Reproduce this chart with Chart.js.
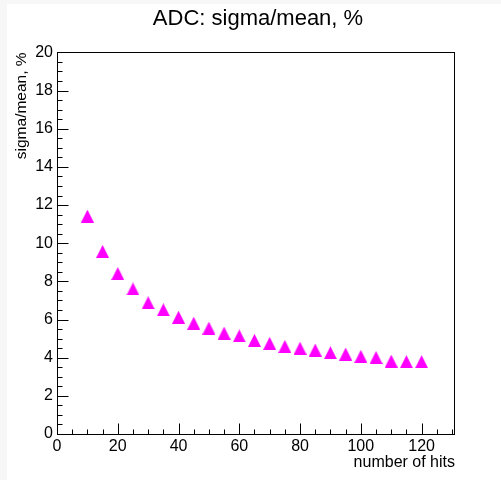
<!DOCTYPE html>
<html>
<head>
<meta charset="utf-8">
<title>ADC: sigma/mean, %</title>
<script src="https://cdn.jsdelivr.net/npm/chart.js@4.4.1/dist/chart.umd.min.js"></script>
<style>
  html, body { margin: 0; padding: 0; background: #ffffff; }
  #wrap { width: 501px; height: 480px; }
</style>
</head>
<body>
<div id="wrap"><canvas id="adcChart" width="501" height="480"></canvas></div>
<script>
// data
const hits = [10, 15, 20, 25, 30, 35, 40, 45, 50, 55, 60, 65, 70, 75, 80, 85, 90, 95, 100, 105, 110, 115, 120];
const sigmaMean = [11.42, 9.57, 8.41, 7.60, 6.88, 6.51, 6.12, 5.81, 5.55, 5.29, 5.14, 4.91, 4.75,
  4.59, 4.50, 4.40, 4.26, 4.19, 4.07, 4.01, 3.82, 3.79, 3.79];

const X_MIN = 0, X_MAX = 131, X_MAJOR = 20, X_MINOR = 5;
const Y_MIN = 0, Y_MAX = 20, Y_MAJOR = 2, Y_MINOR = 0.5;

const FONT = "'Liberation Sans', Arial, Helvetica, sans-serif";

// ROOT-like full triangle marker (box centred on the point)
function makeTriangle(size, color) {
  const c = document.createElement("canvas");
  c.width = size;
  c.height = size;
  const g = c.getContext("2d");
  g.fillStyle = color;
  g.beginPath();
  g.moveTo(0, size);
  g.lineTo(size, size);
  g.lineTo(size / 2, 0);
  g.closePath();
  g.fill();
  return c;
}

// light grey strip on top/left, like the original screenshot
const backdrop = {
  id: "backdrop",
  beforeDraw(chart) {
    const ctx = chart.ctx;
    ctx.save();
    ctx.fillStyle = "#f7f7f7";
    ctx.fillRect(0, 0, chart.width, chart.height);
    ctx.fillStyle = "#ffffff";
    ctx.fillRect(7, 4, chart.width - 7, chart.height - 4);
    ctx.restore();
  },
};

// frame with ticks drawn inside the pad
const rootFrame = {
  id: "rootFrame",
  afterDraw(chart) {
    const { ctx, chartArea: a } = chart;
    const xs = chart.scales.x, ys = chart.scales.y;
    ctx.save();
    ctx.strokeStyle = "#000";
    ctx.lineWidth = 1;
    ctx.strokeRect(Math.round(a.left) + 0.5, Math.round(a.top) + 0.5,
      Math.round(a.right - a.left) - 1, Math.round(a.bottom - a.top));

    ctx.beginPath();
    const bottom = Math.round(a.bottom) + 0.5;
    for (let v = X_MIN; v <= X_MAX + 1e-9; v += X_MINOR) {
      const px = Math.round(xs.getPixelForValue(v)) + 0.5;
      const len = Math.abs(v % X_MAJOR) < 1e-9 ? 11 : 5;
      ctx.moveTo(px, bottom);
      ctx.lineTo(px, bottom - len);
    }
    const left = Math.round(a.left) + 0.5;
    for (let v = Y_MIN; v <= Y_MAX + 1e-9; v += Y_MINOR) {
      const py = Math.round(ys.getPixelForValue(v)) + 0.5;
      const len = Math.abs(v % Y_MAJOR) < 1e-9 ? 11 : 5;
      ctx.moveTo(left, py);
      ctx.lineTo(left + len, py);
    }
    ctx.stroke();
    ctx.restore();
  },
};

const marker = makeTriangle(13, "#ff00ff");

new Chart(document.getElementById("adcChart").getContext("2d"), {
  type: "scatter",
  data: {
    datasets: [
      {
        label: "sigma/mean",
        data: hits.map((h, i) => ({ x: h, y: sigmaMean[i] })),
        pointStyle: marker,
        pointRadius: 7,
        pointHoverRadius: 7,
        backgroundColor: "#ff00ff",
        borderColor: "#ff00ff",
        borderWidth: 0,
      },
    ],
  },
  options: {
    responsive: false,
    devicePixelRatio: 1,
    animation: false,
    layout: { padding: { left: 15, right: 0, top: 0, bottom: 0 } },
    plugins: {
      legend: { display: false },
      tooltip: { enabled: false },
      title: {
        display: true,
        text: "ADC: sigma/mean, %",
        color: "#000",
        font: { family: FONT, size: 22, weight: "normal" },
        padding: { top: 6, bottom: 20 },
      },
    },
    scales: {
      x: {
        type: "linear",
        min: X_MIN,
        max: X_MAX,
        grid: { display: false, drawTicks: false },
        border: { display: false },
        ticks: {
          stepSize: X_MAJOR,
          includeBounds: false,
          autoSkip: false,
          maxRotation: 0,
          color: "#000",
          padding: 3,
          font: { family: FONT, size: 16 },
        },
        title: {
          display: true,
          text: "number of hits",
          align: "end",
          color: "#000",
          font: { family: FONT, size: 16 },
          padding: { top: 0, bottom: 8 },
        },
        afterFit(scale) { scale.height = 46; },
      },
      y: {
        type: "linear",
        min: Y_MIN,
        max: Y_MAX,
        grid: { display: false, drawTicks: false },
        border: { display: false },
        ticks: {
          stepSize: Y_MAJOR,
          autoSkip: false,
          color: "#000",
          padding: 4,
          font: { family: FONT, size: 16 },
        },
        title: {
          display: true,
          text: "sigma/mean, %",
          align: "end",
          color: "#000",
          font: { family: FONT, size: 15.5 },
          padding: { top: -3, bottom: 0 },
        },
        afterFit(scale) { scale.width = 42; },
      },
      // empty right axis, only keeps the space right of the frame
      yRight: {
        type: "linear",
        position: "right",
        min: Y_MIN,
        max: Y_MAX,
        display: true,
        grid: { display: false, drawTicks: false },
        border: { display: false },
        ticks: { display: false },
        afterFit(scale) { scale.width = 46; },
      },
    },
  },
  plugins: [backdrop, rootFrame],
});
</script>
</body>
</html>
